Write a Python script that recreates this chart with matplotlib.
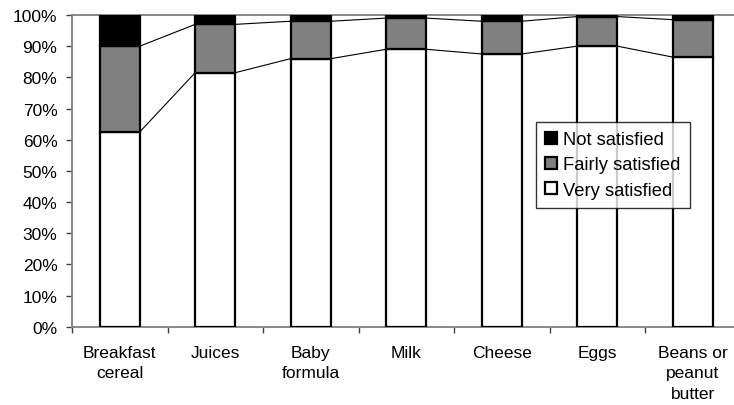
"""
Stacked satisfaction chart by food category
"""

import matplotlib.pyplot as plt
import numpy as np
from matplotlib.ticker import FuncFormatter, FixedLocator

plt.rcParams['font.family'] = ['Liberation Sans', 'DejaVu Sans']

# Data (percent of respondents)
categories = ['Breakfast\ncereal', 'Juices', 'Baby\nformula', 'Milk',
              'Cheese', 'Eggs', 'Beans or\npeanut\nbutter']
very_satisfied = [62.5, 81.5, 86.0, 89.0, 87.5, 90.0, 86.5]
fairly_satisfied = [27.5, 15.5, 12.0, 10.0, 10.5, 9.5, 12.0]
not_satisfied = [10.0, 3.0, 2.0, 1.0, 2.0, 0.5, 1.5]

series_labels = ['Very satisfied', 'Fairly satisfied', 'Not satisfied']
series_colors = ['white', '#808080', 'black']

fig = plt.figure(figsize=(7.34, 4.06), dpi=100)
# plot area runs slightly past the right edge, like the cropped original
ax = fig.add_axes([72 / 734, 78.3 / 406, 668.5 / 734, 311.7 / 406])

x = np.arange(len(categories))
width = 0.42
bottom = np.zeros(len(categories))
tops = []
handles = []
for vals, label, color in zip([very_satisfied, fairly_satisfied, not_satisfied],
                              series_labels, series_colors):
    vals = np.array(vals) / 100
    bars = ax.bar(x, vals, width, bottom=bottom, color=color,
                  edgecolor='black', linewidth=1.6, label=label, zorder=3)
    handles.append(bars)
    bottom = bottom + vals
    tops.append(bottom.copy())

# series lines joining the bars (Excel style)
for cum in tops[:2]:
    for i in range(len(categories) - 1):
        ax.plot([x[i] + width / 2, x[i + 1] - width / 2], [cum[i], cum[i + 1]],
                color='black', linewidth=0.8, zorder=2)

ax.set_xlim(-0.5, len(categories) - 0.5)
ax.set_ylim(0, 1)
ax.yaxis.set_major_locator(FixedLocator(np.arange(0, 1.01, 0.1)))
ax.yaxis.set_major_formatter(FuncFormatter(lambda v, p: f'{v * 100:.0f}%'))
ax.tick_params(axis='y', length=4, width=1, color='#404040', pad=6.5,
               labelsize=12.5)

ax.set_xticks(x)
ax.set_xticklabels(categories, fontsize=12.5, linespacing=1.45)
ax.tick_params(axis='x', which='major', length=0, pad=13)
ax.set_xticks(np.arange(-0.5, len(categories), 1), minor=True)
ax.tick_params(axis='x', which='minor', length=4, width=1, color='#404040')

for side in ['left', 'bottom', 'top', 'right']:
    ax.spines[side].set_color('#808080')
    ax.spines[side].set_linewidth(1.3)

leg = ax.legend(handles[::-1], series_labels[::-1], loc='upper left',
                bbox_to_anchor=(0.694, 0.657), borderaxespad=0,
                fontsize=13.2, frameon=True, fancybox=False, shadow=False,
                handlelength=0.65, handleheight=0.65, handletextpad=0.35,
                labelspacing=0.45, borderpad=0.5)
leg.get_frame().set_edgecolor('black')
leg.get_frame().set_linewidth(1.0)

fig.savefig('out.png', dpi=100, facecolor='white')
